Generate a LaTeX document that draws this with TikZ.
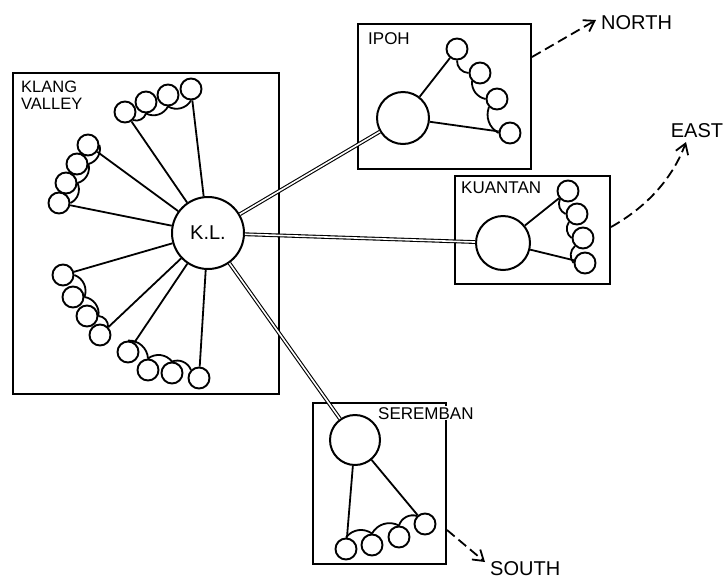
\documentclass[tikz,border=0pt]{standalone}
\usepackage{fontspec}
\setmainfont{Liberation Sans}
\usetikzlibrary{arrows.meta}
\begin{document}
\begin{tikzpicture}[x=1pt,y=-1pt,
  sm/.style={circle,draw,line width=1.9pt,minimum size=21pt,inner sep=0pt},
  big/.style={circle,draw,line width=2pt,inner sep=0pt},
  link/.style={line width=1.8pt},
  loop/.style={line width=1.8pt},
  road/.style={double,double distance=1.6pt,line width=1.1pt},
  box/.style={draw,line width=2.2pt},
  lbl/.style={font=\fontsize{17}{15.5}\selectfont,inner sep=1pt,align=left},
  dir/.style={font=\fontsize{20}{20}\selectfont,inner sep=0pt},
  dash arrow/.style={line width=1.8pt,dash pattern=on 10pt off 5pt,-{Straight Barb[length=10pt,width=13pt,line width=1.8pt]}}]
\useasboundingbox (0,0) rectangle (725,579);
\fill[white] (0,0) rectangle (725,579);
% boxes
\draw[box] (13,73) rectangle (279,394);
\draw[box] (358,24) rectangle (531,169);
\draw[box] (455,176) rectangle (610,284);
\draw[box] (313,403) rectangle (446,564);
% labels
\node[lbl,anchor=north west,font=\fontsize{16.5}{17}\selectfont] (kvl) at (20,80) {KLANG\\VALLEY};
\node[lbl,anchor=north west] (ipl) at (367,31) {IPOH};
\node[lbl,anchor=north west] (kul) at (460,181) {KUANTAN};
\node[lbl,anchor=north west,fill=white] (sel) at (377,406) {SEREMBAN};
% KL
\node[big,minimum size=72pt,font=\fontsize{20}{20}\selectfont] (KL) at (208,233) {K.L.};
\node[sm] (t1) at (125,112) {};
\node[sm] (t2) at (146,102) {};
\node[sm] (t3) at (168,95) {};
\node[sm] (t4) at (191,89) {};
\node[sm] (u1) at (88,145) {};
\node[sm] (u2) at (77,164) {};
\node[sm] (u3) at (66,183) {};
\node[sm] (u4) at (59,203) {};
\node[sm] (l1) at (63,275) {};
\node[sm] (l2) at (73,297) {};
\node[sm] (l3) at (87,316) {};
\node[sm] (l4) at (100,335) {};
\node[sm] (b1) at (128,352) {};
\node[sm] (b2) at (148,370) {};
\node[sm] (b3) at (172,373) {};
\node[sm] (b4) at (199,378) {};
\foreach \c in {t1,t4,u1,u4,l1,l4,b1,b4} \draw[link] (KL) -- (\c);
\draw[loop] (t1.south east) to[bend right=45] (t2.south);
\draw[loop] (t2.south) to[bend right=45] (t3.south);
\draw[loop] (t3.south) to[bend right=45] (t4.south);
\draw[loop] (u1.east) to[bend left=45] (u2.east);
\draw[loop] (u2.east) to[bend left=45] (u3.east);
\draw[loop] (u3.east) to[bend left=45] (u4.east);
\draw[loop] (l1.east) to[bend left=45] (l2.east);
\draw[loop] (l2.east) to[bend left=45] (l3.east);
\draw[loop] (l3.east) to[bend left=45] (l4.north east);
\draw[loop] (b1.north) to[bend left=45] (b2.north);
\draw[loop] (b2.north) to[bend left=45] (b3.north);
\draw[loop] (b3.north) to[bend left=45] (b4.north west);
% Ipoh
\node[big,minimum size=52pt] (ip) at (403,118) {};
\node[sm] (i1) at (457,49) {};
\node[sm] (i2) at (480,73) {};
\node[sm] (i3) at (497,99) {};
\node[sm] (i4) at (510,133) {};
\draw[link] (ip) -- (i1);
\draw[link] (ip) -- (i4);
\draw[loop] (i1.south) to[bend right=45] (i2.west);
\draw[loop] (i2.south west) to[bend right=40] (i3.west);
\draw[loop] (i3.south west) to[bend right=40] (i4.west);
% Kuantan
\node[big,minimum size=54pt] (ku) at (503,243) {};
\node[sm] (k1) at (568,191) {};
\node[sm] (k2) at (577,214) {};
\node[sm] (k3) at (583,238) {};
\node[sm] (k4) at (585,263) {};
\draw[link] (ku) -- (k1);
\draw[link] (ku) -- (k4);
\draw[loop] (k1.south west) to[bend right=45] (k2.west);
\draw[loop] (k2.south west) to[bend right=45] (k3.west);
\draw[loop] (k3.south west) to[bend right=45] (k4.west);
% Seremban
\node[big,minimum size=50pt] (se) at (355,440) {};
\node[sm] (s1) at (346,549) {};
\node[sm] (s2) at (372,545) {};
\node[sm] (s3) at (399,537) {};
\node[sm] (s4) at (425,524) {};
\draw[link] (se) -- (s1);
\draw[link] (se) -- (s4);
\draw[loop] (s1.north) to[bend left=45] (s2.north);
\draw[loop] (s2.north) to[bend left=45] (s3.north);
\draw[loop] (s3.north) to[bend left=45] (s4.north west);
% roads
\draw[road] (KL) -- (ip);
\draw[road] (KL) -- (ku);
\draw[road] (KL) -- (se);
% directions
\coordinate (nS) at (532,57);
\coordinate (nE) at (596,20);
\node[dir,anchor=west] (north) at (601,23) {NORTH};
\draw[dash arrow] (nS) -- (nE);
\coordinate (eS) at (611,227);
\coordinate (eE) at (686,142);
\node[dir,anchor=south] (east) at (697,138) {EAST};
\draw[dash arrow] (eS) .. controls (645,208) and (672,180) .. (eE);
\coordinate (sS) at (447,530);
\coordinate (sE) at (485,562);
\node[dir,anchor=west] (south) at (490,569) {SOUTH};
\draw[dash arrow] (sS) -- (sE);
\end{tikzpicture}
\end{document}
